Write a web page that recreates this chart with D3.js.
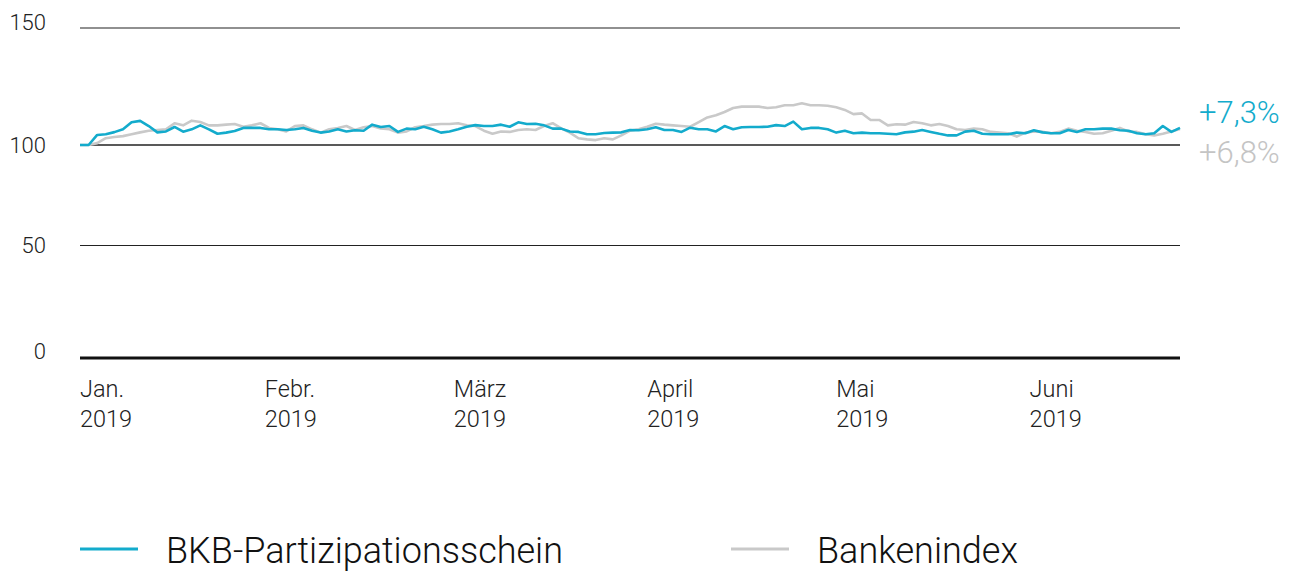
<!DOCTYPE html>
<html>
<head>
<meta charset="utf-8">
<script src="https://cdn.jsdelivr.net/npm/d3@7"></script>
<style>
  body { margin: 0; background: #fff; }
  svg text { font-family: "Roboto", "Liberation Sans", sans-serif; font-weight: 300; }
</style>
</head>
<body>
<div id="chart"></div>
<script>
// indexed to 100 at start of 2019, one value per trading day
const bkb = [
  100, 100, 104.3, 104.6, 105.5, 106.7, 109.7, 110.3, 108.1, 105.4, 105.8, 107.7, 105.7,
  106.7, 108.4, 106.7, 104.8, 105.3, 106.0, 107.3, 107.3, 107.3, 106.7, 106.7, 106.4,
  106.7, 107.3, 106.1, 105.3, 105.8, 106.7, 105.8, 106.3,
  106.1, 108.7, 107.7, 108.1, 105.6, 107.0, 106.7, 107.8, 106.7, 105.3, 105.8, 106.7,
  107.8, 108.5, 108.1, 108.1, 108.7, 107.8, 109.7, 109.0, 109.1, 108.4, 107.0, 107.0,
  105.8, 105.6, 104.6, 104.6, 105.1, 105.3, 105.4, 106.4, 106.3,
  106.7, 107.6, 106.4, 106.4, 105.6, 107.4, 106.7, 106.7, 105.8, 108.1, 106.7, 107.6,
  107.7, 107.7, 107.8, 108.5, 108.1, 110.0, 106.7, 107.3, 107.3, 106.7, 105.3, 106.1,
  105.0, 105.3, 105.0, 105.0, 104.8, 104.6, 105.4, 105.7, 106.4,
  105.6, 104.8, 104.1, 104.1, 105.7, 106.1, 104.8, 104.6, 104.6, 104.6, 105.3, 105.0,
  106.3, 105.4, 105.0, 105.0, 106.4, 105.6, 106.7, 106.7, 107.0, 107.0, 106.3, 106.1,
  105.0, 104.6, 105.0, 108.1, 105.6, 107.3
];
const banken = [
  100, 100, 100.8, 102.9, 103.4, 103.8, 104.6, 105.4, 106.1, 106.4, 106.7, 109.3, 108.4,
  110.4, 109.8, 108.4, 108.4, 108.7, 109.0, 107.8, 108.4, 109.3, 107.3, 106.7, 105.8,
  108.1, 108.4, 106.7, 105.3, 106.7, 107.3, 108.1, 106.4,
  107.6, 108.1, 107.1, 106.7, 105.3, 105.8, 107.6, 108.1, 108.7, 109.0, 109.0, 109.3,
  108.4, 108.1, 106.1, 104.8, 105.8, 105.6, 106.4, 106.7, 106.4, 108.1, 109.3, 107.1,
  105.3, 102.9, 102.4, 102.1, 102.9, 102.4, 104.1, 106.1, 106.7,
  107.8, 109.1, 108.7, 108.4, 108.1, 107.8, 109.8, 111.8, 112.7, 114.1, 115.8, 116.4,
  116.4, 116.4, 115.8, 116.1, 117.0, 117.0, 117.8, 117.0, 117.0, 116.8, 116.1, 115.0,
  113.2, 113.5, 110.7, 110.7, 108.4, 108.9, 108.7, 109.8, 109.3,
  108.4, 109.0, 108.1, 106.7, 106.4, 107.0, 106.7, 105.6, 105.3, 105.0, 103.6, 105.3,
  105.8, 105.6, 105.0, 105.6, 107.0, 106.1, 105.6, 104.8, 105.0, 106.1, 107.3, 105.8,
  105.6, 104.6, 104.1, 104.8, 105.8, 106.8
];
const monthNames = ["Jan.", "Febr.", "März", "April", "Mai", "Juni"];
const monthStart = [0, 21.5, 43.5, 66, 88, 110.5];
const yTicks = [0, 50, 100, 150];
const seriesNames = ["BKB-Partizipationsschein", "Bankenindex"];
const endLabels = ["+7,3%", "+6,8%"];

const W = 1309, H = 572;
const blue = "#13abcc", grey = "#c9c9c9";

const svg = d3.select("#chart").append("svg")
    .attr("width", W)
    .attr("height", H);

const x = d3.scaleLinear()
    .domain([0, bkb.length - 1])
    .range([80, 1180]);

// the original axis is not evenly spaced, so use a piecewise scale
const y = d3.scaleLinear()
    .domain([0, 50, 100, 150])
    .range([358, 245.5, 145, 28]);
const yLabel = d3.scaleLinear()
    .domain([0, 50, 100, 150])
    .range([351, 245, 145, 22]);

// gridlines
svg.append("g")
    .selectAll("line")
    .data(yTicks)
    .join("line")
    .attr("x1", 80)
    .attr("x2", 1180)
    .attr("y1", d => y(d))
    .attr("y2", d => y(d))
    .attr("stroke", d => d === 0 ? "#111" : "#222")
    .attr("stroke-width", d => d === 0 ? 3 : (d === 100 ? 1.4 : 1.1));

svg.append("g")
    .selectAll("text")
    .data(yTicks)
    .join("text")
    .attr("x", 46)
    .attr("y", d => yLabel(d))
    .attr("dy", "0.35em")
    .attr("text-anchor", "end")
    .attr("font-size", 22)
    .attr("fill", "#222")
    .text(d => d);

// month labels
const months = svg.append("g")
    .selectAll("text")
    .data(monthNames)
    .join("text")
    .attr("x", (d, i) => x(monthStart[i]))
    .attr("y", 397)
    .attr("font-size", 23.5)
    .attr("fill", "#222");
months.append("tspan").text(d => d);
months.append("tspan")
    .attr("x", (d, i) => x(monthStart[i]))
    .attr("dy", 30)
    .text("2019");

const line = d3.line()
    .x((d, i) => x(i))
    .y(d => y(d));

svg.append("path")
    .datum(banken)
    .attr("fill", "none")
    .attr("stroke", grey)
    .attr("stroke-width", 2.6)
    .attr("stroke-linejoin", "round")
    .attr("d", line);

svg.append("path")
    .datum(bkb)
    .attr("fill", "none")
    .attr("stroke", blue)
    .attr("stroke-width", 2.6)
    .attr("stroke-linejoin", "round")
    .attr("d", line);

// end values
svg.append("text")
    .attr("x", 1199)
    .attr("y", 123)
    .attr("font-size", 31)
    .attr("fill", blue)
    .text(endLabels[0]);
svg.append("text")
    .attr("x", 1199)
    .attr("y", 163)
    .attr("font-size", 31)
    .attr("fill", "#c4c4c4")
    .text(endLabels[1]);

// legend
const legend = svg.append("g")
    .selectAll("g")
    .data(seriesNames)
    .join("g")
    .attr("transform", (d, i) => `translate(${i === 0 ? 80 : 731},549)`);

legend.append("line")
    .attr("x1", 0)
    .attr("x2", 58)
    .attr("stroke", (d, i) => i === 0 ? blue : grey)
    .attr("stroke-width", 3);

legend.append("text")
    .attr("x", 86)
    .attr("y", 14)
    .attr("font-size", 36)
    .attr("fill", "#111")
    .text(d => d);
</script>
</body>
</html>
